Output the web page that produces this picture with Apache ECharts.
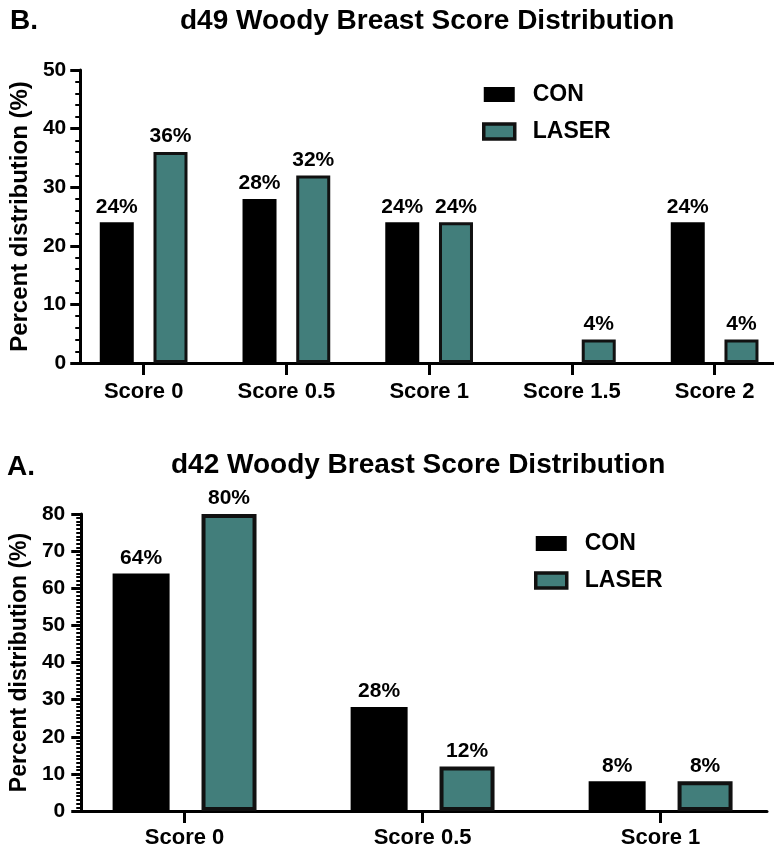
<!DOCTYPE html>
<html>
<head>
<meta charset="utf-8">
<script src="https://cdn.jsdelivr.net/npm/echarts@6/dist/echarts.min.js"></script>
<style>
html,body{margin:0;padding:0;background:#fff;}
#chart{width:774px;height:855px;}
</style>
</head>
<body>
<div id="chart"></div>
<script>
// ---- data ----
const categoriesB = ['Score 0', 'Score 0.5', 'Score 1', 'Score 1.5', 'Score 2'];
const conB = [24, 28, 24, 0, 24];
const laserB = [36, 32, 24, 4, 4];
const yTicksB = [0, 10, 20, 30, 40, 50];

const categoriesA = ['Score 0', 'Score 0.5', 'Score 1'];
const conA = [64, 28, 8];
const laserA = [80, 12, 8];
const yTicksA = [0, 10, 20, 30, 40, 50, 60, 70, 80];

const seriesNames = ['CON', 'LASER'];
// ---- end data ----

const FONT = '"Liberation Sans", Arial, Helvetica, sans-serif';
const BLACK = '#000';
const TEAL = '#427e7b';
const EDGE = '#111';

function pairs(arr) { return arr.map((v, i) => [i, v]); }

const labelStyle = {
  show: true, position: 'top', distance: 5,
  fontFamily: FONT, fontWeight: 'bold', fontSize: 21, color: '#000',
  formatter: p => (p.value[1] ? p.value[1] + '%' : '')
};

function xAxis(gridIndex, cats, min, max, labelMargin) {
  const idx = cats.map((c, i) => i);
  return {
    type: 'value', gridIndex, min, max,
    splitLine: { show: false },
    axisLine: { show: true, onZero: false, lineStyle: { color: BLACK, width: 3 } },
    axisTick: { show: true, customValues: idx, length: 12, lineStyle: { color: BLACK, width: 3 } },
    axisLabel: {
      show: true, customValues: idx, margin: labelMargin,
      fontFamily: FONT, fontWeight: 'bold', fontSize: 22, color: '#000',
      formatter: v => cats[Math.round(v)] || ''
    }
  };
}

function yAxis(gridIndex, ticks, minorSplit, nameSize, nameGap, labelMargin) {
  return {
    type: 'value', gridIndex,
    min: ticks[0], max: ticks[ticks.length - 1], interval: ticks[1] - ticks[0],
    name: 'Percent distribution (%)', nameLocation: 'middle', nameRotate: 90, nameGap,
    nameTextStyle: { fontFamily: FONT, fontWeight: 'bold', fontSize: nameSize, color: '#000' },
    splitLine: { show: false },
    axisLine: { show: true, onZero: false, lineStyle: { color: BLACK, width: 3 } },
    axisTick: { show: true, length: 10, lineStyle: { color: BLACK, width: 3 } },
    minorTick: { show: true, splitNumber: minorSplit, length: 5, lineStyle: { color: BLACK, width: 2 } },
    axisLabel: { margin: labelMargin, fontFamily: FONT, fontWeight: 'bold', fontSize: 21, color: '#000' }
  };
}

function titleItem(text, left, top) {
  return { text, left, top, padding: 0,
    textStyle: { fontFamily: FONT, fontWeight: 'bold', fontSize: 28, color: '#000' } };
}

function legendItem(left, top) {
  return {
    orient: 'vertical', left, top, itemWidth: 31, itemHeight: 15, itemGap: 14, padding: 0,
    icon: 'rect',
    data: [
      { name: seriesNames[0], itemStyle: { color: BLACK, borderWidth: 0 } },
      { name: seriesNames[1], itemStyle: { color: TEAL, borderColor: EDGE, borderWidth: 3.5 } }
    ],
    textStyle: { fontFamily: FONT, fontWeight: 'bold', fontSize: 23, color: '#000', lineHeight: 15, padding: [0, 0, 0, 13] }
  };
}

const option = {
  animation: false,
  backgroundColor: '#fff',
  title: [
    titleItem('B.', 10, 7),
    titleItem('d49 Woody Breast Score Distribution', 180, 7),
    titleItem('A.', 7, 453),
    titleItem('d42 Woody Breast Score Distribution', 171, 451)
  ],
  legend: [legendItem(482, 83), legendItem(534, 532)],
  grid: [
    { left: 79, top: 70, width: 695, height: 293, containLabel: false },
    { left: 80, top: 514, width: 687, height: 297, containLabel: false }
  ],
  xAxis: [
    xAxis(0, categoriesB, -0.444, 4.416, 18),
    xAxis(1, categoriesA, -0.434, 2.447, 16)
  ],
  yAxis: [
    yAxis(0, yTicksB, 5, 24, 46, 14),
    yAxis(1, yTicksA, 10, 23, 48, 16)
  ],
  series: [
    { name: seriesNames[0], type: 'bar', xAxisIndex: 0, yAxisIndex: 0, data: pairs(conB),
      barWidth: 34, itemStyle: { color: BLACK, borderWidth: 0 }, label: labelStyle },
    { name: seriesNames[1], type: 'bar', xAxisIndex: 0, yAxisIndex: 0, data: pairs(laserB),
      barWidth: 34, barGap: '58%', itemStyle: { color: TEAL, borderColor: EDGE, borderWidth: 3 }, label: labelStyle },
    { name: seriesNames[0], type: 'bar', xAxisIndex: 1, yAxisIndex: 1, data: pairs(conA),
      barWidth: 57, itemStyle: { color: BLACK, borderWidth: 0 }, label: labelStyle },
    { name: seriesNames[1], type: 'bar', xAxisIndex: 1, yAxisIndex: 1, data: pairs(laserA),
      barWidth: 55, barGap: '56%', itemStyle: { color: TEAL, borderColor: EDGE, borderWidth: 4 }, label: labelStyle }
  ]
};

const chart = echarts.init(document.getElementById('chart'), null, { renderer: 'canvas' });
chart.setOption(option);
</script>
</body>
</html>
